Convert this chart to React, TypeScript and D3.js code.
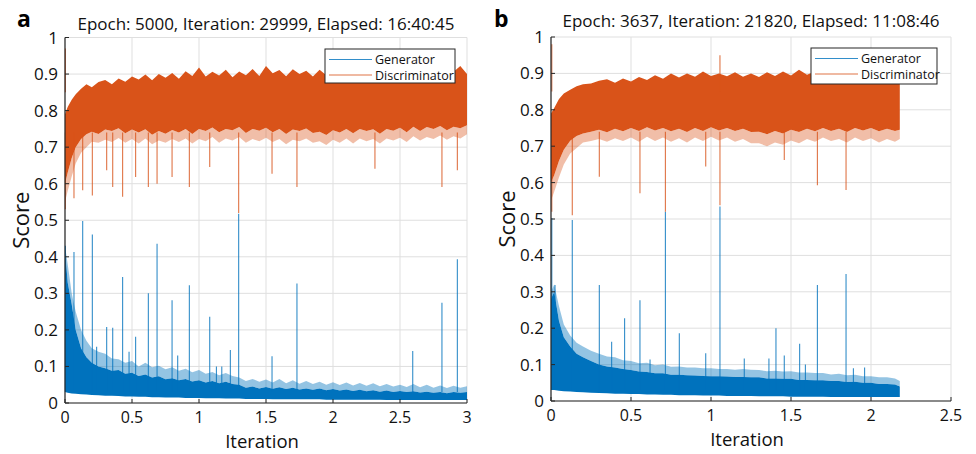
import React from 'react';
import * as d3 from 'd3';

const BLUE = '#0072BD';
const ORANGE = '#D95319';
const FONT = "'Open Sans', 'Noto Sans', sans-serif";

const yTicks = [0, 0.1, 0.2, 0.3, 0.4, 0.5, 0.6, 0.7, 0.8, 0.9, 1];
const legendLabels = ['Generator', 'Discriminator'];

// ---------- Panel a ----------
const aTitle = 'Epoch: 5000, Iteration: 29999, Elapsed: 16:40:45';
const aXTicks = [0, 0.5, 1, 1.5, 2, 2.5, 3];
const aX = [0,0.02,0.05,0.08,0.12,0.16,0.2,0.25,0.3,0.35,0.4,0.45,0.5,0.55,0.6,0.65,0.7,0.75,0.8,0.85,0.9,0.95,1,1.05,1.1,1.15,1.2,1.25,1.3,1.35,1.4,1.45,1.5,1.55,1.6,1.65,1.7,1.75,1.8,1.85,1.9,1.95,2,2.05,2.1,2.15,2.2,2.25,2.3,2.35,2.4,2.45,2.5,2.55,2.6,2.65,2.7,2.75,2.8,2.85,2.9,2.95,3];
const aDiscTop = [0.79,0.81,0.83,0.845,0.86,0.872,0.864,0.878,0.884,0.872,0.888,0.879,0.893,0.885,0.899,0.883,0.9,0.89,0.903,0.887,0.908,0.895,0.918,0.893,0.906,0.896,0.912,0.891,0.907,0.897,0.914,0.895,0.922,0.902,0.911,0.894,0.913,0.9,0.909,0.893,0.912,0.897,0.908,0.894,0.91,0.899,0.906,0.893,0.909,0.898,0.905,0.892,0.908,0.897,0.904,0.891,0.906,0.897,0.903,0.893,0.906,0.922,0.9];
const aDiscLow = [0.6,0.63,0.67,0.7,0.722,0.735,0.742,0.736,0.748,0.744,0.752,0.738,0.748,0.74,0.749,0.734,0.744,0.737,0.747,0.74,0.75,0.736,0.75,0.744,0.754,0.741,0.75,0.746,0.755,0.739,0.75,0.745,0.753,0.741,0.75,0.736,0.748,0.744,0.751,0.739,0.742,0.733,0.746,0.74,0.75,0.738,0.75,0.744,0.749,0.737,0.75,0.745,0.753,0.741,0.756,0.744,0.755,0.75,0.758,0.746,0.756,0.752,0.76];
const aDiscFringe = [0.55,0.58,0.62,0.655,0.685,0.7,0.715,0.712,0.72,0.714,0.725,0.712,0.722,0.71,0.724,0.708,0.718,0.712,0.722,0.714,0.724,0.71,0.722,0.716,0.728,0.712,0.724,0.718,0.728,0.712,0.722,0.716,0.726,0.714,0.722,0.708,0.72,0.716,0.724,0.712,0.716,0.706,0.72,0.712,0.724,0.71,0.724,0.716,0.722,0.71,0.724,0.718,0.726,0.714,0.73,0.718,0.728,0.722,0.732,0.72,0.73,0.724,0.735];
const aGenTop = [0.42,0.33,0.27,0.2,0.15,0.125,0.11,0.1,0.095,0.088,0.09,0.08,0.083,0.074,0.078,0.07,0.073,0.065,0.068,0.062,0.066,0.059,0.062,0.056,0.06,0.054,0.058,0.052,0.05,0.042,0.045,0.04,0.044,0.039,0.043,0.038,0.042,0.037,0.04,0.036,0.04,0.035,0.038,0.034,0.037,0.033,0.036,0.032,0.035,0.031,0.034,0.03,0.033,0.03,0.032,0.029,0.031,0.028,0.03,0.027,0.03,0.028,0.03];
const aGenHair = [0.43,0.38,0.3,0.25,0.2,0.17,0.15,0.14,0.135,0.122,0.12,0.11,0.115,0.1,0.11,0.098,0.102,0.092,0.098,0.088,0.094,0.084,0.09,0.08,0.085,0.076,0.082,0.074,0.07,0.06,0.066,0.058,0.064,0.056,0.066,0.054,0.062,0.053,0.06,0.052,0.058,0.05,0.057,0.049,0.056,0.048,0.055,0.047,0.054,0.046,0.052,0.045,0.05,0.044,0.052,0.043,0.05,0.042,0.048,0.041,0.047,0.042,0.046];
const aGenLow = [0.03,0.028,0.026,0.025,0.024,0.023,0.022,0.021,0.02,0.02,0.019,0.018,0.018,0.017,0.017,0.016,0.016,0.015,0.015,0.015,0.014,0.014,0.014,0.013,0.013,0.013,0.012,0.012,0.012,0.011,0.011,0.011,0.011,0.01,0.01,0.01,0.01,0.01,0.01,0.01,0.01,0.009,0.009,0.009,0.009,0.009,0.009,0.009,0.009,0.009,0.008,0.008,0.008,0.008,0.008,0.008,0.008,0.008,0.008,0.008,0.008,0.008,0.008];
const aGenSpikes: [number, number][] = [[0.003,0.43],[0.067,0.413],[0.132,0.498],[0.204,0.461],[0.236,0.154],[0.311,0.208],[0.356,0.206],[0.43,0.345],[0.478,0.14],[0.527,0.181],[0.622,0.3],[0.687,0.436],[0.799,0.281],[0.841,0.13],[0.928,0.322],[1.08,0.236],[1.13,0.1],[1.17,0.1],[1.234,0.145],[1.296,0.518],[1.545,0.128],[1.731,0.327],[2.595,0.142],[2.813,0.274],[2.928,0.393]];
const aDiscDownSpikes: [number, number][] = [[0.003,0.53],[0.067,0.56],[0.132,0.582],[0.204,0.568],[0.311,0.637],[0.356,0.591],[0.43,0.564],[0.527,0.618],[0.622,0.591],[0.687,0.6],[0.799,0.618],[0.928,0.591],[1.08,0.646],[1.296,0.52],[1.545,0.627],[1.731,0.591],[2.313,0.641],[2.813,0.591],[2.928,0.637]];
const aDiscUpSpikes: [number, number][] = [[0.003,0.97]];

// ---------- Panel b ----------
const bTitle = 'Epoch: 3637, Iteration: 21820, Elapsed: 11:08:46';
const bXTicks = [0, 0.5, 1, 1.5, 2, 2.5];
const bX = [0,0.02,0.05,0.08,0.12,0.16,0.2,0.25,0.3,0.35,0.4,0.45,0.5,0.55,0.6,0.65,0.7,0.75,0.8,0.85,0.9,0.95,1,1.05,1.1,1.15,1.2,1.25,1.3,1.35,1.4,1.45,1.5,1.55,1.6,1.65,1.7,1.75,1.8,1.85,1.9,1.95,2,2.05,2.1,2.15,2.18];
const bDiscTop = [0.79,0.805,0.83,0.845,0.855,0.865,0.87,0.872,0.88,0.884,0.874,0.886,0.878,0.89,0.882,0.895,0.885,0.9,0.889,0.9,0.891,0.905,0.893,0.9,0.892,0.903,0.891,0.9,0.89,0.903,0.893,0.905,0.894,0.91,0.896,0.905,0.894,0.903,0.895,0.905,0.893,0.903,0.893,0.902,0.892,0.9,0.88];
const bDiscLow = [0.6,0.62,0.66,0.69,0.715,0.728,0.735,0.74,0.745,0.738,0.748,0.741,0.75,0.742,0.752,0.743,0.75,0.741,0.748,0.739,0.75,0.742,0.752,0.743,0.75,0.742,0.748,0.739,0.74,0.733,0.742,0.735,0.745,0.739,0.748,0.741,0.75,0.742,0.748,0.739,0.75,0.743,0.75,0.741,0.748,0.742,0.745];
const bDiscFringe = [0.55,0.575,0.615,0.65,0.68,0.695,0.71,0.714,0.72,0.712,0.722,0.714,0.724,0.712,0.726,0.714,0.724,0.712,0.722,0.71,0.724,0.714,0.726,0.716,0.724,0.712,0.72,0.708,0.708,0.7,0.71,0.704,0.716,0.708,0.72,0.712,0.724,0.714,0.72,0.71,0.724,0.714,0.722,0.71,0.72,0.712,0.72];
const bGenTop = [0.28,0.3,0.22,0.175,0.15,0.13,0.12,0.11,0.1,0.095,0.092,0.088,0.085,0.081,0.08,0.076,0.076,0.072,0.072,0.071,0.07,0.069,0.068,0.068,0.067,0.066,0.066,0.065,0.065,0.062,0.062,0.061,0.061,0.058,0.058,0.057,0.057,0.055,0.055,0.052,0.053,0.05,0.05,0.047,0.047,0.045,0.04];
const bGenHair = [0.3,0.32,0.26,0.21,0.18,0.16,0.15,0.138,0.13,0.122,0.12,0.112,0.11,0.104,0.105,0.098,0.1,0.094,0.095,0.092,0.092,0.09,0.09,0.088,0.088,0.086,0.088,0.086,0.085,0.082,0.083,0.081,0.082,0.078,0.078,0.077,0.077,0.073,0.075,0.071,0.072,0.068,0.068,0.065,0.065,0.062,0.055];
const bGenLow = [0.03,0.03,0.028,0.027,0.026,0.025,0.024,0.023,0.022,0.021,0.02,0.02,0.019,0.019,0.018,0.018,0.017,0.017,0.016,0.016,0.016,0.015,0.015,0.015,0.014,0.014,0.014,0.014,0.013,0.013,0.013,0.013,0.012,0.012,0.012,0.012,0.012,0.011,0.011,0.011,0.011,0.011,0.011,0.011,0.011,0.011,0.011];
const bGenSpikes: [number, number][] = [[0.005,0.503],[0.025,0.319],[0.133,0.497],[0.302,0.319],[0.379,0.163],[0.46,0.227],[0.556,0.277],[0.619,0.114],[0.715,0.52],[0.802,0.186],[0.967,0.131],[1.056,0.534],[1.208,0.117],[1.362,0.117],[1.406,0.2],[1.458,0.125],[1.554,0.157],[1.59,0.1],[1.665,0.319],[1.844,0.349],[1.89,0.09],[1.96,0.092]];
const bDiscDownSpikes: [number, number][] = [[0.005,0.52],[0.133,0.51],[0.302,0.616],[0.556,0.571],[0.715,0.52],[0.967,0.644],[1.056,0.538],[1.458,0.662],[1.665,0.593],[1.844,0.58]];
const bDiscUpSpikes: [number, number][] = [[0.005,0.98],[1.056,0.95]];

type PanelProps = {
  letter: string; title: string; xTicks: number[]; xMax: number;
  xs: number[]; discTop: number[]; discLow: number[]; discFringe: number[];
  genTop: number[]; genHair: number[]; genLow: number[];
  genSpikes: [number, number][]; discDown: [number, number][]; discUp: [number, number][];
  left: number; right: number; top: number; bottom: number;
  titleY: number; letterX: number; legend: { x: number; y: number; w: number; h: number };
};

function Panel(p: PanelProps) {
  const x = d3.scaleLinear().domain([0, p.xMax]).range([p.left, p.right]);
  const y = d3.scaleLinear().domain([0, 1]).range([p.bottom, p.top]);
  const idx = p.xs.map((_, i) => i);
  const band = (lo: number[], hi: number[]) =>
    d3.area<number>().x(i => x(p.xs[i])).y0(i => y(lo[i])).y1(i => y(hi[i])).curve(d3.curveLinear)(idx) || '';
  const axisColor = '#262626';
  const grid = '#dfdfdf';
  const lg = p.legend;
  return (
    <g>
      {p.xTicks.map(t => (
        <line key={'gx' + t} x1={x(t)} x2={x(t)} y1={p.top} y2={p.bottom} stroke={grid} strokeWidth={1} />
      ))}
      {yTicks.map(t => (
        <line key={'gy' + t} x1={p.left} x2={p.right} y1={y(t)} y2={y(t)} stroke={grid} strokeWidth={1} />
      ))}
      <path d={band(p.genTop, p.genHair)} fill={BLUE} opacity={0.42} />
      <path d={band(p.genLow, p.genTop)} fill={BLUE} />
      {p.genSpikes.map(([sx, sv], i) => (
        <line key={'gs' + i} x1={x(sx)} x2={x(sx)} y1={y(0.03)} y2={y(sv)} stroke={BLUE} strokeWidth={1.1} opacity={0.8} />
      ))}
      <path d={band(p.discFringe, p.discLow)} fill={ORANGE} opacity={0.38} />
      <path d={band(p.discLow, p.discTop)} fill={ORANGE} />
      {p.discDown.map(([sx, sv], i) => (
        <line key={'ds' + i} x1={x(sx)} x2={x(sx)} y1={y(0.74)} y2={y(sv)} stroke={ORANGE} strokeWidth={1.1} opacity={0.8} />
      ))}
      {p.discUp.map(([sx, sv], i) => (
        <line key={'du' + i} x1={x(sx)} x2={x(sx)} y1={y(0.85)} y2={y(sv)} stroke={ORANGE} strokeWidth={1.1} opacity={0.8} />
      ))}
      <line x1={p.left} x2={p.left} y1={p.top} y2={p.bottom} stroke={axisColor} strokeWidth={1.2} />
      <line x1={p.left} x2={p.right} y1={p.bottom} y2={p.bottom} stroke={axisColor} strokeWidth={1.2} />
      {yTicks.map(t => (
        <g key={'yt' + t}>
          <line x1={p.left} x2={p.left + 4} y1={y(t)} y2={y(t)} stroke={axisColor} strokeWidth={1} />
          <text x={p.left - 7} y={y(t) + 6} textAnchor="end" fontSize={17} fill="#111" fontFamily={FONT}>{String(t)}</text>
        </g>
      ))}
      {p.xTicks.map(t => (
        <g key={'xt' + t}>
          <line x1={x(t)} x2={x(t)} y1={p.bottom} y2={p.bottom - 4} stroke={axisColor} strokeWidth={1} />
          <text x={x(t)} y={p.bottom + 20} textAnchor="middle" fontSize={16} fill="#111" fontFamily={FONT}>{String(t)}</text>
        </g>
      ))}
      <text x={(p.left + p.right) / 2 - 4} y={p.bottom + 45} textAnchor="middle" fontSize={18.5} fill="#111" fontFamily={FONT}>Iteration</text>
      <text transform={`translate(${p.left - 36},${(p.top + p.bottom) / 2}) rotate(-90)`} textAnchor="middle" fontSize={22} fill="#111" fontFamily={FONT}>Score</text>
      <text x={(p.left + p.right) / 2} y={p.titleY} textAnchor="middle" fontSize={17} fill="#111" fontFamily={FONT}>{p.title}</text>
      <text x={p.letterX} y={27} fontSize={23} fontWeight="bold" fill="#000" fontFamily={FONT}>{p.letter}</text>
      <rect x={lg.x} y={lg.y} width={lg.w} height={lg.h} fill="#fff" stroke={axisColor} strokeWidth={1} />
      {legendLabels.map((lab, i) => {
        const ly = lg.y + 10.5 + i * 15.5;
        return (
          <g key={lab}>
            <line x1={lg.x + 4} x2={lg.x + 47} y1={ly} y2={ly} stroke={i === 0 ? BLUE : ORANGE} strokeWidth={1.2} opacity={0.8} />
            <text x={lg.x + 50} y={ly + 4.5} fontSize={12.5} fill="#111" fontFamily={FONT}>{lab}</text>
          </g>
        );
      })}
    </g>
  );
}

export default function App() {
  return (
    <svg width={976} height={454} viewBox="0 0 976 454" style={{ position: 'absolute', left: 0, top: 0, background: '#fff' }}>
      <rect x={0} y={0} width={976} height={454} fill="#fff" />
      <Panel letter="a" title={aTitle} xTicks={aXTicks} xMax={3} xs={aX}
        discTop={aDiscTop} discLow={aDiscLow} discFringe={aDiscFringe}
        genTop={aGenTop} genHair={aGenHair} genLow={aGenLow}
        genSpikes={aGenSpikes} discDown={aDiscDownSpikes} discUp={aDiscUpSpikes}
        left={65} right={467} top={37.5} bottom={403} titleY={30} letterX={17}
        legend={{ x: 325, y: 49, w: 130, h: 34 }} />
      <Panel letter="b" title={bTitle} xTicks={bXTicks} xMax={2.5} xs={bX}
        discTop={bDiscTop} discLow={bDiscLow} discFringe={bDiscFringe}
        genTop={bGenTop} genHair={bGenHair} genLow={bGenLow}
        genSpikes={bGenSpikes} discDown={bDiscDownSpikes} discUp={bDiscUpSpikes}
        left={551} right={951} top={37} bottom={401} titleY={27} letterX={494}
        legend={{ x: 811, y: 48, w: 126, h: 36 }} />
    </svg>
  );
}
